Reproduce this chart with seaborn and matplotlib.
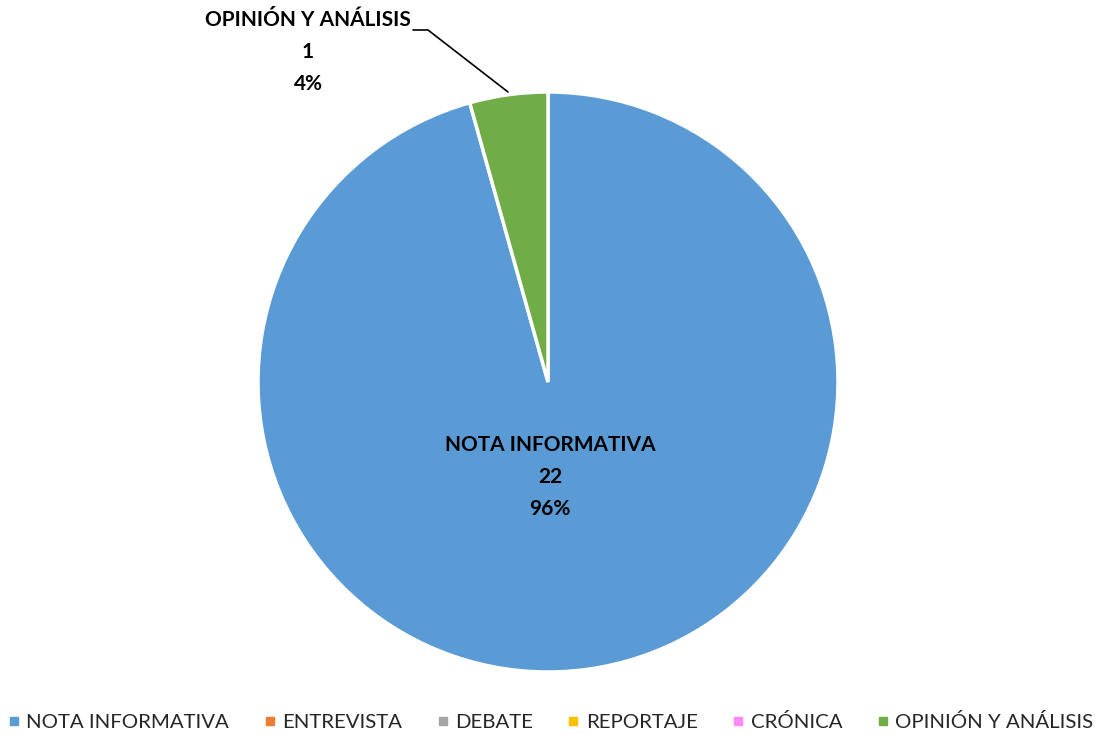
import matplotlib
matplotlib.use("Agg")
import matplotlib.pyplot as plt
import seaborn as sns
from matplotlib.lines import Line2D

categorias = ["NOTA INFORMATIVA", "ENTREVISTA", "DEBATE", "REPORTAJE", "CRÓNICA", "OPINIÓN Y ANÁLISIS"]
valores = [22, 0, 0, 0, 0, 1]
colores = ["#5B9BD5", "#ED7D31", "#A5A5A5", "#FFC000", "#FF88FF", "#70AD47"]

sns.set_theme(style="white")
plt.rcParams['font.family'] = ['Lato', 'DejaVu Sans']

fig = plt.figure(figsize=(10.99, 7.34), dpi=100)
ax = fig.add_axes([0, 0, 1, 1])

# solo se dibujan las porciones con valor
idx = [i for i, v in enumerate(valores) if v > 0]
total = sum(valores)
ax.pie([valores[i] for i in idx], colors=[colores[i] for i in idx],
       startangle=90, counterclock=False, center=(548, 352), radius=290,
       wedgeprops=dict(edgecolor="white", linewidth=2.5))
ax.set_xlim(0, 1099)
ax.set_ylim(0, 734)
ax.set_aspect("auto")
ax.axis("off")

# etiquetas
ax.text(550, 257, f"{categorias[0]}\n{valores[0]}\n{valores[0] / total:.0%}",
        ha="center", va="center", fontsize=15, fontweight="bold",
        linespacing=1.75, color="black")
ax.text(308, 682, f"{categorias[5]}\n{valores[5]}\n{valores[5] / total:.0%}",
        ha="center", va="center", fontsize=15, fontweight="bold",
        linespacing=1.75, color="black")
ax.plot([413, 428, 508], [704, 704, 642], color="black", linewidth=1.2)

handles = [Line2D([0], [0], marker="s", linestyle="none", markersize=6,
                  markerfacecolor=c, markeredgecolor=c) for c in colores]
fig.legend(handles, categorias, loc="center", bbox_to_anchor=(0.5, 12 / 734),
           ncol=6, frameon=False, fontsize=14.7, handletextpad=0.2,
           columnspacing=1.6, handlelength=0.8)

fig.savefig("out.png", dpi=100)
